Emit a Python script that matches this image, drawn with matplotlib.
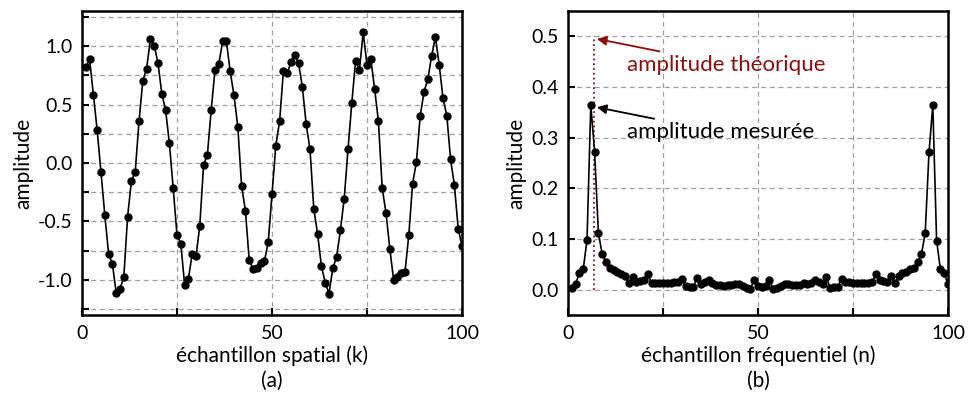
import numpy as np
import matplotlib.pyplot as plt

plt.rcParams['font.family'] = ['Lato', 'DejaVu Sans']

# ── data ────────────────────────────────────────────────────────────
k = np.arange(1, 101)
signal = [
    0.820, 0.886, 0.584, 0.279, -0.080, -0.444, -0.775, -0.863, -1.111, -1.077,
    -0.977, -0.459, -0.154, -0.077, 0.356, 0.701, 0.806, 1.060, 1.003, 0.855,
    0.593, 0.453, 0.168, -0.217, -0.615, -0.689, -1.040, -0.989, -0.781, -0.798,
    -0.536, -0.014, 0.071, 0.453, 0.798, 0.846, 1.040, 1.040, 0.783, 0.578,
    0.311, -0.197, -0.407, -0.829, -0.906, -0.897, -0.852, -0.840, -0.678, -0.268,
    0.148, 0.356, 0.786, 0.769, 0.860, 0.926, 0.852, 0.647, 0.330, 0.117,
    -0.393, -0.607, -0.880, -1.023, -1.117, -0.900, -0.803, -0.575, -0.305, 0.117,
    0.513, 0.875, 0.795, 1.117, 0.838, 0.892, 0.635, 0.359, -0.214, -0.427,
    -0.732, -1.000, -0.972, -0.943, -0.932, -0.615, -0.179, 0.009, 0.402, 0.610,
    0.715, 0.915, 1.077, 0.840, 0.556, 0.405, 0.031, -0.191, -0.561, -0.712,
]

n = np.arange(1, 101)
spectrum = [
    0.004, 0.012, 0.032, 0.040, 0.098, 0.364, 0.272, 0.112, 0.070, 0.055,
    0.043, 0.039, 0.034, 0.031, 0.026, 0.013, 0.025, 0.015, 0.018, 0.020,
    0.030, 0.013, 0.013, 0.013, 0.013, 0.014, 0.013, 0.015, 0.015, 0.022,
    0.007, 0.005, 0.005, 0.024, 0.012, 0.015, 0.020, 0.013, 0.010, 0.009,
    0.008, 0.009, 0.009, 0.011, 0.012, 0.007, 0.003, 0.002, 0.020, 0.007,
    0.006, 0.007, 0.020, 0.002, 0.004, 0.008, 0.012, 0.011, 0.009, 0.009,
    0.010, 0.013, 0.012, 0.013, 0.019, 0.015, 0.012, 0.025, 0.003, 0.005,
    0.006, 0.022, 0.015, 0.015, 0.013, 0.014, 0.013, 0.014, 0.013, 0.015,
    0.030, 0.020, 0.018, 0.015, 0.026, 0.013, 0.027, 0.032, 0.035, 0.040,
    0.043, 0.054, 0.070, 0.111, 0.271, 0.364, 0.097, 0.040, 0.032, 0.011,
]
n_theo = 6.8
amp_theo = 0.5

DARK_RED = "#8B1010"
GRID = dict(color="#a0a0a0", linestyle=(0, (4, 3)), linewidth=0.9)
FS = 15

fig = plt.figure(figsize=(9.68, 4.01), dpi=100)
ax1 = fig.add_axes([82 / 968, 86 / 401, 380 / 968, 304 / 401])
ax2 = fig.add_axes([568 / 968, 86 / 401, 380 / 968, 304 / 401])


def style(ax):
    for s in ax.spines.values():
        s.set_linewidth(1.8)
    ax.tick_params(direction="in", length=5, width=1.5, labelsize=14,
                   pad=7, top=False, right=False)
    ax.grid(True, **GRID)
    ax.set_axisbelow(True)


# ── (a) spatial signal ──────────────────────────────────────────────
ax1.plot(k, signal, "-o", color="black", lw=1.2, ms=5)
ax1.set_xlim(0, 100)
ax1.set_ylim(-1.3, 1.3)
ax1.set_xticks([0, 25, 50, 75, 100], ["0", "", "50", "", "100"])
yt1 = np.arange(-1.25, 1.26, 0.25)
ax1.set_yticks(yt1, [f"{v:.1f}" if abs(v * 2 - round(v * 2)) < 1e-9 else ""
                     for v in yt1])
style(ax1)
ax1.set_xlabel("échantillon spatial (k)\n(a)", fontsize=FS, labelpad=3,
               linespacing=1.3)
ax1.set_ylabel("amplitude", fontsize=FS, labelpad=3)

# ── (b) spectrum ────────────────────────────────────────────────────
ax2.plot([n_theo, n_theo], [0, amp_theo], linestyle=":", color=DARK_RED, lw=1.3)
ax2.plot(n, spectrum, "-o", color="black", lw=1.2, ms=5)
ax2.set_xlim(0, 100)
ax2.set_ylim(-0.05, 0.55)
ax2.set_xticks([0, 25, 50, 75, 100], ["0", "", "50", "", "100"])
ax2.set_yticks(np.arange(0, 0.51, 0.1), [f"{v:.1f}" for v in np.arange(0, 0.51, 0.1)])
style(ax2)
ax2.set_xlabel("échantillon fréquentiel (n)\n(b)", fontsize=FS, labelpad=3,
               linespacing=1.3)
ax2.set_ylabel("amplitude", fontsize=FS, labelpad=3)

ax2.annotate("amplitude théorique", xy=(7.6, 0.495), xytext=(15.5, 0.444),
             color=DARK_RED, fontsize=16, va="center", ha="left",
             arrowprops=dict(arrowstyle="-|>", color=DARK_RED, lw=1.3,
                             mutation_scale=14, shrinkA=2, shrinkB=0))
ax2.annotate("amplitude mesurée", xy=(7.6, 0.36), xytext=(15.5, 0.311),
             color="black", fontsize=16, va="center", ha="left",
             arrowprops=dict(arrowstyle="-|>", color="black", lw=1.3,
                             mutation_scale=14, shrinkA=2, shrinkB=0))

fig.savefig("out.png", dpi=100)
